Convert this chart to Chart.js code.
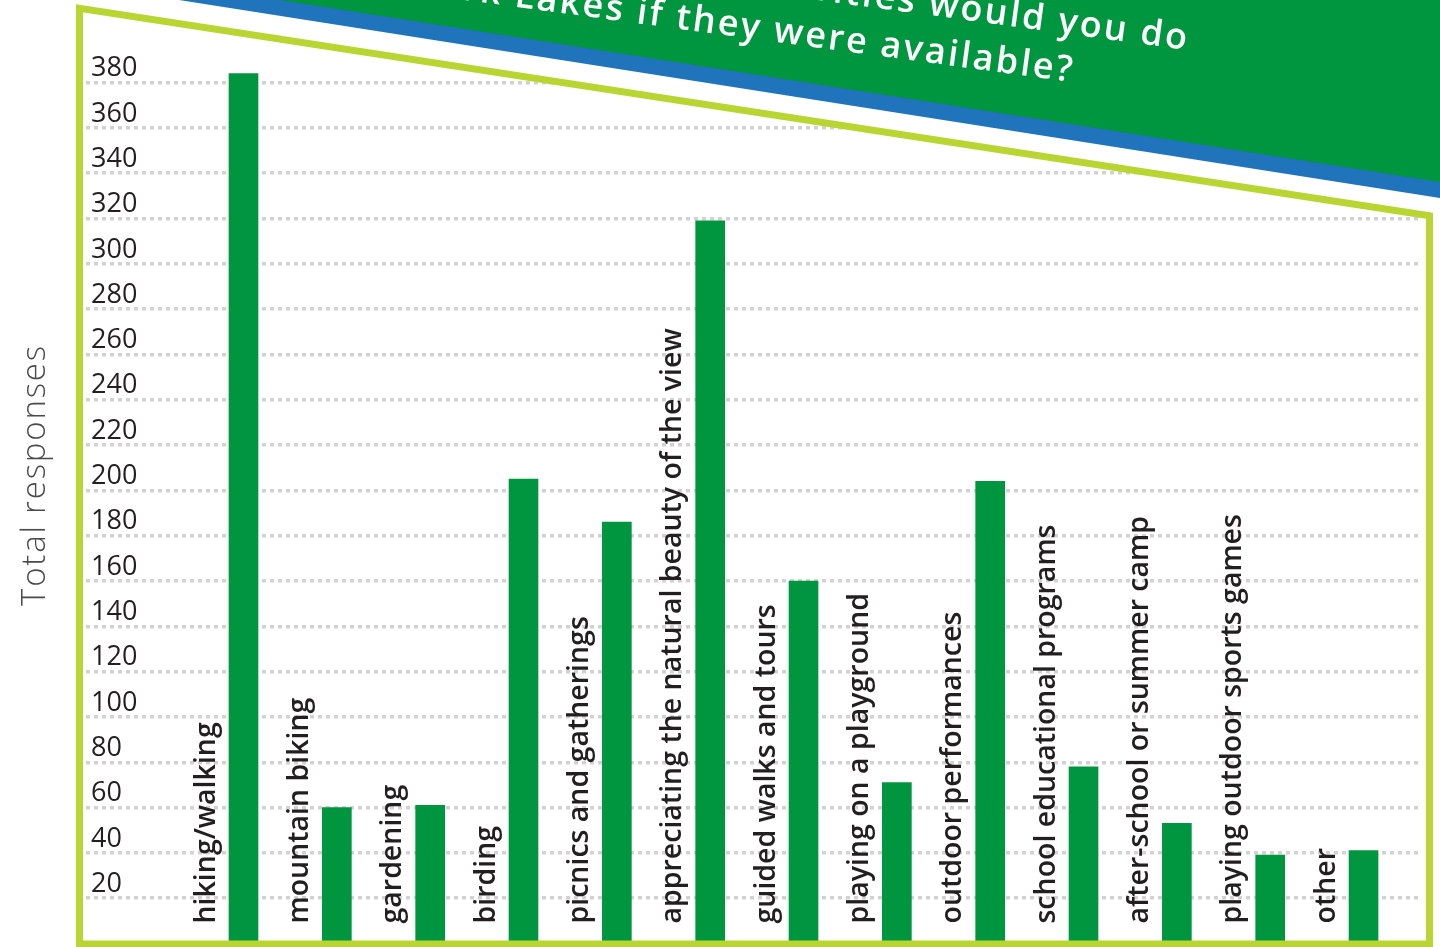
<!DOCTYPE html>
<html>
<head>
<meta charset="utf-8">
<script src="https://cdn.jsdelivr.net/npm/chart.js@4.4.1/dist/chart.umd.min.js"></script>
<style>
html,body{margin:0;padding:0;background:#fff;}
#wrap{position:relative;width:1440px;height:947px;overflow:hidden;}
canvas{display:block;}
</style>
</head>
<body>
<div id="wrap"><canvas id="c"></canvas></div>
<script>
const categories = [
  "hiking/walking",
  "mountain biking",
  "gardening",
  "birding",
  "picnics and gatherings",
  "appreciating the natural beauty of the view",
  "guided walks and tours",
  "playing on a playground",
  "outdoor performances",
  "school educational programs",
  "after-school or summer camp",
  "playing outdoor sports games",
  "other"
];
const responses = [384, 60, 61, 205, 186, 319, 160, 71, 204, 78, 53, 39, 41];
const yAxisTitle = "Total responses";
const titleLines = ["Which of these activities would you do", "at Park Lakes if they were available?"];
const yMin = 0;
const yMax = 385;
const yStep = 20;

const GREEN = '#00953F', BLUE = '#1F74BC', LIME = '#B9D532', INK = '#231F20';
const limeY = x => 7.8 + 0.1537 * (x - 76);
const bandY = (x, x0) => 0.157 * (x - x0);

const deco = {
  id: 'deco',
  beforeDatasetsDraw(chart) {
    const ctx = chart.ctx;
    ctx.save();
    ctx.fillStyle = '#fff';
    ctx.beginPath();
    ctx.moveTo(60, 0);
    ctx.lineTo(1440, 0);
    ctx.lineTo(1440, limeY(1440));
    ctx.lineTo(60, limeY(60));
    ctx.closePath();
    ctx.fill();
    ctx.restore();
  },
  afterDatasetsDraw(chart) {
    const ctx = chart.ctx;
    const xs = chart.scales.x, ys = chart.scales.y;
    ctx.save();
    ctx.fillStyle = INK;
    ctx.font = '600 28.5px "Open Sans"';
    ctx.textAlign = 'left';
    ctx.textBaseline = 'alphabetic';
    categories.forEach((c, i) => {
      const x = xs.getPixelForValue(i) - 29;
      const y = ys.getPixelForValue(0) - 20;
      ctx.save();
      ctx.translate(x, y);
      ctx.rotate(-Math.PI / 2);
      ctx.fillText(c, 0, 0);
      ctx.restore();
    });
    // y axis title
    ctx.fillStyle = '#4a4a4a';
    ctx.font = '300 33px "Open Sans"';
    ctx.textAlign = 'center';
    ctx.textBaseline = 'middle';
    if ('letterSpacing' in ctx) ctx.letterSpacing = '1.8px';
    ctx.save();
    ctx.translate(36, 475);
    ctx.rotate(-Math.PI / 2);
    ctx.fillText(yAxisTitle, 0, 0);
    ctx.restore();
    if ('letterSpacing' in ctx) ctx.letterSpacing = '0px';
    ctx.restore();
  },
  afterDraw(chart) {
    const ctx = chart.ctx;
    ctx.save();
    // lime frame
    ctx.strokeStyle = LIME;
    ctx.lineWidth = 7;
    ctx.lineJoin = 'miter';
    ctx.beginPath();
    ctx.moveTo(79.5, 944);
    ctx.lineTo(79.5, limeY(79.5));
    ctx.lineTo(1429.5, limeY(1429.5));
    ctx.lineTo(1429.5, 944);
    ctx.closePath();
    ctx.stroke();
    // blue band
    ctx.fillStyle = BLUE;
    ctx.beginPath();
    ctx.moveTo(179, 0);
    ctx.lineTo(1440, 0);
    ctx.lineTo(1440, bandY(1440, 179));
    ctx.closePath();
    ctx.fill();
    // green banner
    ctx.fillStyle = GREEN;
    ctx.beginPath();
    ctx.moveTo(280, 0);
    ctx.lineTo(1440, 0);
    ctx.lineTo(1440, bandY(1440, 280));
    ctx.closePath();
    ctx.fill();
    ctx.clip();
    // title
    ctx.fillStyle = '#ffffff';
    ctx.font = '600 36px "Open Sans"';
    if ('letterSpacing' in ctx) ctx.letterSpacing = '2.4px';
    ctx.textAlign = 'right';
    ctx.textBaseline = 'alphabetic';
    const ang = Math.atan(0.135);
    const ends = [[1188, 50], [1073, 82]];
    titleLines.forEach((t, i) => {
      ctx.save();
      ctx.translate(ends[i][0], ends[i][1]);
      ctx.rotate(ang);
      ctx.fillText(t, 0, 0);
      ctx.restore();
    });
    if ('letterSpacing' in ctx) ctx.letterSpacing = '0px';
    ctx.restore();
  }
};

new Chart(document.getElementById('c'), {
  type: 'bar',
  data: {
    labels: categories,
    datasets: [{
      data: responses.map((v, i) => ({ x: i, y: v })),
      backgroundColor: GREEN,
      borderWidth: 0,
      barThickness: 29
    }]
  },
  options: {
    responsive: true,
    maintainAspectRatio: false,
    animation: false,
    layout: { padding: { left: 0, right: 20, top: 71.3, bottom: 3.5 } },
    plugins: { legend: { display: false }, tooltip: { enabled: false } },
    scales: {
      x: {
        type: 'linear',
        min: -1.6875,
        max: 12.605,
        offset: false,
        display: false,
        grid: { display: false }
      },
      y: {
        min: yMin,
        max: yMax,
        afterFit(s) { s.width = 86; s.paddingTop = 0; s.paddingBottom = 0; },
        grid: { color: '#d2d2d2', lineWidth: 3.5, drawTicks: false, tickLength: 0 },
        border: { display: false, dash: [4, 4] },
        ticks: {
          stepSize: yStep,
          includeBounds: false,
          mirror: true,
          padding: 5,
          labelOffset: -14,
          color: INK,
          font: { family: '"Open Sans"', size: 27, weight: '400' },
          callback: v => (v === 0 ? null : String(v))
        },
        title: { display: false }
      }
    }
  },
  plugins: [deco]
});
</script>
</body>
</html>
